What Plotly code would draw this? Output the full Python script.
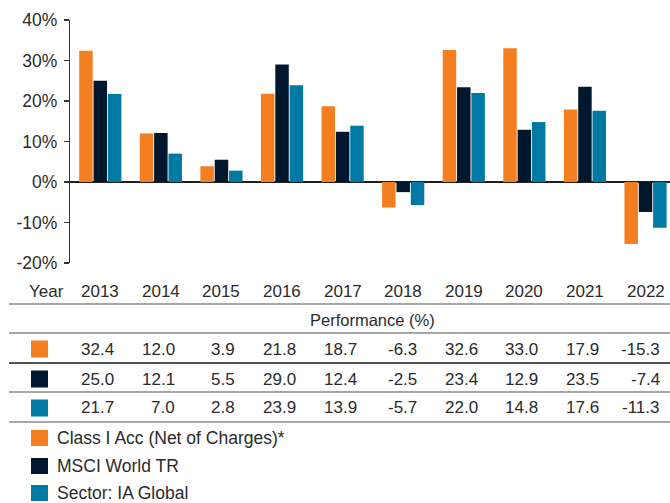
import plotly.graph_objects as go

years = ["2013", "2014", "2015", "2016", "2017", "2018", "2019", "2020", "2021", "2022"]
series_names = ["Class I Acc (Net of Charges)*", "MSCI World TR", "Sector: IA Global"]
fund = [32.4, 12.0, 3.9, 21.8, 18.7, -6.3, 32.6, 33.0, 17.9, -15.3]
msci = [25.0, 12.1, 5.5, 29.0, 12.4, -2.5, 23.4, 12.9, 23.5, -7.4]
sector = [21.7, 7.0, 2.8, 23.9, 13.9, -5.7, 22.0, 14.8, 17.6, -11.3]
colors = ["#F47F20", "#00172E", "#0079A3"]
y_ticks = [-20, -10, 0, 10, 20, 30, 40]

W, H = 670, 503
L, R, T, B = 70, 0, 20, 240
PH = H - T - B
PW = W - L - R

def py(p):  # pixel y -> paper y
    return (H - B - p) / PH

def px(p):  # pixel x -> paper x
    return (p - L) / PW

TXT = "#2b2b2b"
FONT = "Liberation Sans, Arial, Helvetica, sans-serif"

fig = go.Figure()
all_series = [fund, msci, sector]
for name, vals, col in zip(series_names, all_series, colors):
    fig.add_trace(go.Bar(x=list(range(len(years))), y=vals, name=name,
                         marker=dict(color=col, line=dict(width=0)),
                         showlegend=False, hoverinfo="skip"))

annotations = []
shapes = []

# Year row
annotations.append(dict(text="Year", x=px(27), y=py(291), xref="paper", yref="paper",
                        xanchor="left", yanchor="middle", showarrow=False,
                        font=dict(size=17, color=TXT)))
for i, yr in enumerate(years):
    annotations.append(dict(text=yr, x=i, y=py(291), xref="x", yref="paper",
                            xanchor="center", yanchor="middle", showarrow=False,
                            font=dict(size=17, color=TXT)))

# Header
annotations.append(dict(text="Performance (%)", x=4.5, y=py(320), xref="x", yref="paper",
                        xanchor="center", yanchor="middle", showarrow=False,
                        font=dict(size=16.5, color=TXT)))

row_y = [349, 379, 408]
for vals, col, ry in zip(all_series, colors, row_y):
    shapes.append(dict(type="rect", xref="paper", yref="paper",
                       x0=px(31), x1=px(48), y0=py(ry - 8.5), y1=py(ry + 8.5),
                       fillcolor=col, line=dict(width=0)))
    for i, v in enumerate(vals):
        annotations.append(dict(text=f"{v:.1f}", x=i, y=py(ry), xref="x", yref="paper",
                                xanchor="right", yanchor="middle", xshift=16, showarrow=False,
                                font=dict(size=17, color=TXT)))

# table lines
for ly, lc in [(304, "#8a8a8a"), (333, "#8a8a8a"), (363, "#1a1a1a"), (392, "#8a8a8a"), (422, "#8a8a8a")]:
    shapes.append(dict(type="line", xref="paper", yref="paper",
                       x0=px(9), x1=1, y0=py(ly), y1=py(ly),
                       line=dict(color=lc, width=1.3)))

# legend
leg_y = [438, 466, 493]
for name, col, ly in zip(series_names, colors, leg_y):
    shapes.append(dict(type="rect", xref="paper", yref="paper",
                       x0=px(31), x1=px(48), y0=py(ly - 8), y1=py(ly + 8),
                       fillcolor=col, line=dict(width=0)))
    annotations.append(dict(text=name, x=px(55), y=py(ly), xref="paper", yref="paper",
                            xanchor="left", yanchor="middle", showarrow=False,
                            font=dict(size=17.5, color=TXT)))

fig.update_layout(
    width=W, height=H,
    margin=dict(l=L, r=R, t=T, b=B, pad=0),
    paper_bgcolor="white", plot_bgcolor="white",
    font=dict(family=FONT, color=TXT, size=17),
    barmode="group", bargap=0.29, bargroupgap=0.06,
    annotations=annotations, shapes=shapes,
    xaxis=dict(range=[-0.5, 9.404], showticklabels=False, showgrid=False,
               zeroline=False, showline=False, ticks=""),
    yaxis=dict(range=[-20, 40], tickvals=y_ticks, ticktext=[f"{v}%" for v in y_ticks],
               showgrid=False, zeroline=True, zerolinecolor="#231F20", zerolinewidth=2.5,
               showline=True, linecolor="#333333", linewidth=1.2,
               ticks="outside", ticklen=5, tickcolor="#333333", tickwidth=1.2,
               tickfont=dict(size=17.5, color=TXT), ticklabelstandoff=3),
)

fig.write_html(
    "out.html",
    config={"displayModeBar": False, "staticPlot": True},
    post_script="document.body.style.margin='0';document.body.style.padding='0';"
                "document.body.style.overflow='hidden';"
                "document.documentElement.style.overflow='hidden';",
)
